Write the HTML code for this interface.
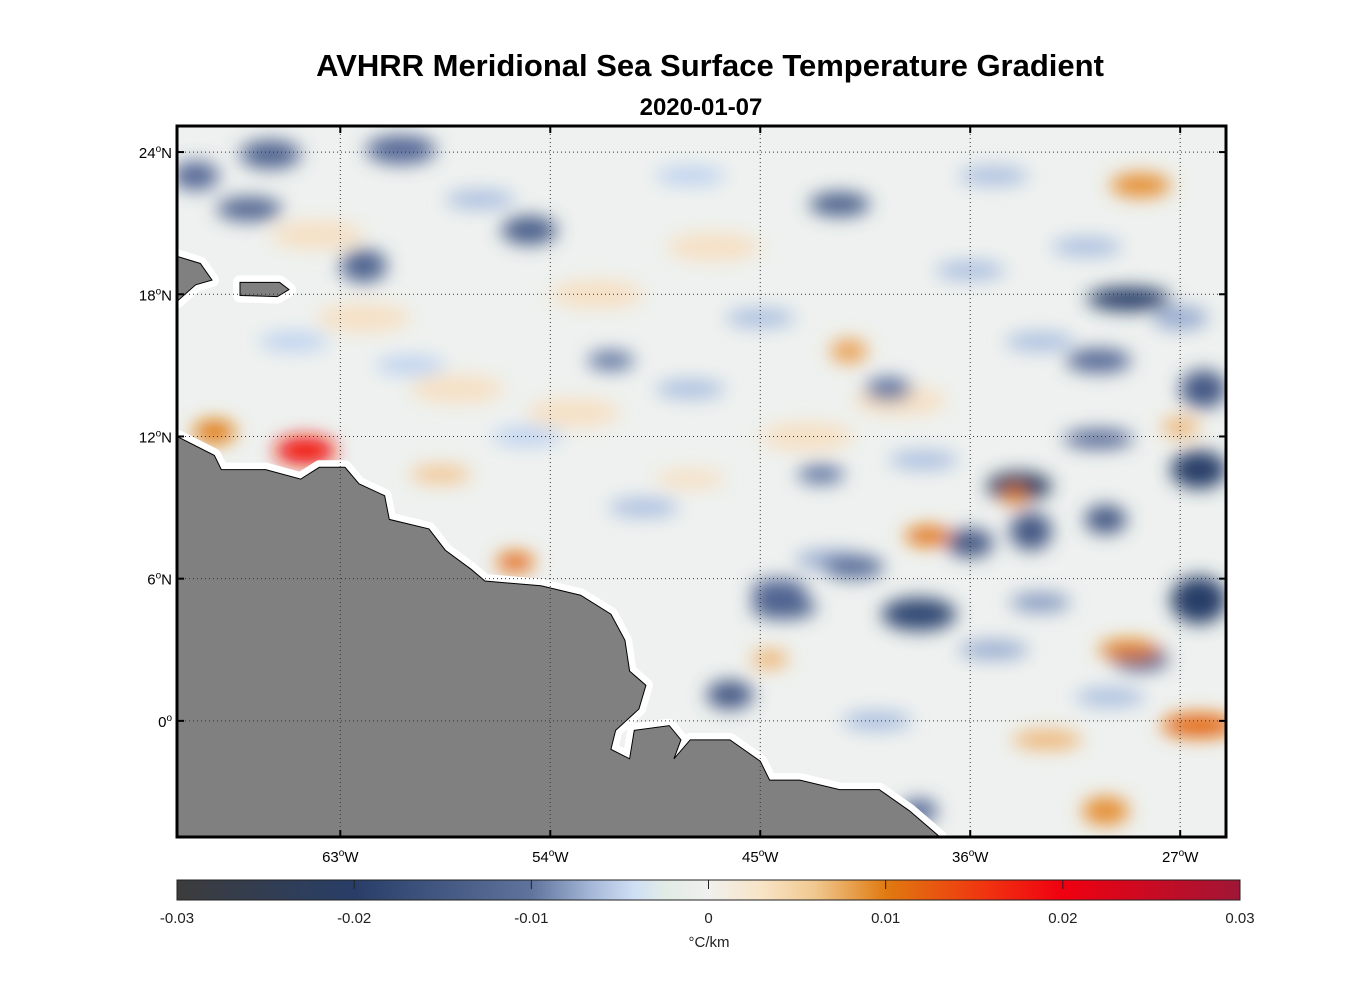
<!DOCTYPE html>
<html><head><meta charset="utf-8">
<style>
body{margin:0;background:#fff;font-family:"Liberation Sans",Arial,sans-serif}
svg text{font-family:"Liberation Sans",Arial,sans-serif}
</style></head>
<body>
<svg id="chart" width="1356" height="1000" xmlns="http://www.w3.org/2000/svg">
<defs>
<filter id="blur" x="-50%" y="-50%" width="200%" height="200%"><feGaussianBlur stdDeviation="9"/></filter>
<clipPath id="mapclip"><rect x="177" y="126" width="1049" height="711"/></clipPath>
<linearGradient id="cbgrad" x1="0" x2="1" y1="0" y2="0">
<stop offset="0" stop-color="#3c3c3c"/>
<stop offset="0.167" stop-color="#283e68"/>
<stop offset="0.333" stop-color="#5f739c"/>
<stop offset="0.39" stop-color="#a5b8d8"/>
<stop offset="0.43" stop-color="#cfdff4"/>
<stop offset="0.46" stop-color="#e2ece6"/>
<stop offset="0.5" stop-color="#f0f0ee"/>
<stop offset="0.55" stop-color="#f8e4c6"/>
<stop offset="0.6" stop-color="#f0c890"/>
<stop offset="0.667" stop-color="#e07a10"/>
<stop offset="0.76" stop-color="#f03410"/>
<stop offset="0.833" stop-color="#f00010"/>
<stop offset="1" stop-color="#a01636"/>
</linearGradient>
</defs>
<text x="710" y="76" text-anchor="middle" font-size="31" font-weight="bold">AVHRR Meridional Sea Surface Temperature Gradient</text>
<text x="701" y="115" text-anchor="middle" font-size="24" font-weight="bold">2020-01-07</text>
<g id="map" clip-path="url(#mapclip)">
<rect x="177" y="126" width="1049" height="711" fill="#eef1ef"/>
<g id="blobs" filter="url(#blur)"></g>
<g id="land"></g>
<g id="grid"></g>
</g>
<rect x="177" y="126" width="1049" height="711" fill="none" stroke="#000" stroke-width="3"/>
<g id="ticks"></g>
<rect x="177" y="880" width="1063" height="20" fill="url(#cbgrad)" stroke="#222" stroke-width="1"/>
<g id="cbticks"></g>
<text x="709" y="947" text-anchor="middle" font-size="15" fill="#222">°C/km</text>
</svg>
<script>
const lonTicks=[-63,-54,-45,-36,-27];
const latTicks=[24,18,12,6,0];
const cbTicks=[-0.03,-0.02,-0.01,0,0.01,0.02,0.03];
const blobLon=[-62,-58,-52,-47,-43,-48,-45,-36,-33,-38,-50,-42,-35,-30,-40,-55,-60,-65,-57,-48,-35,-31,-27,-44,-41,-36,-64,-53,-39,-33,-33.9,-29.2,-26.2,-26.2,-38.2,-46.3,-33.4,-30.2,-44.2,-41.6,-54.9,-62,-66.9,-66.0,-60.4,-69.2,-30.5,-26.0,-28.7,-38.2,-51.4,-39.5,-42.4,-30.5,-64.5,-68.4,-55.5,-37.8,-28.7,-41.2,-29.2,-26.2,-30.2,-32.7,-44.6,-34.1,-58.7,-48,-27];
const blobLat=[17,14,18,20,12,14,17,19,16,11,9,6.8,3,1,0,12,15,16,22,23,23,20,17,4.8,6.5,7.5,20.5,13,13.5,5,9.9,17.8,10.6,5.1,4.5,1.1,8.0,8.5,5.5,21.8,20.7,19.2,21.6,23.9,24.1,23,15.2,14,2.6,-3.8,15.2,14,10.4,11.9,11.4,12.2,6.7,7.8,22.6,15.6,3.0,-0.2,-3.8,-0.8,2.6,9.5,10.4,10.2,12.4];
const blobVal=[0.004,0.004,0.004,0.004,0.004,-0.006,-0.006,-0.006,-0.006,-0.006,-0.006,-0.007,-0.007,-0.006,-0.006,-0.005,-0.005,-0.005,-0.006,-0.005,-0.006,-0.006,-0.007,-0.014,-0.011,-0.015,0.004,0.004,0.004,-0.008,-0.022,-0.02,-0.02,-0.02,-0.018,-0.015,-0.015,-0.015,-0.012,-0.014,-0.014,-0.013,-0.013,-0.013,-0.012,-0.012,-0.012,-0.015,-0.013,-0.012,-0.01,-0.01,-0.01,-0.012,0.02,0.01,0.012,0.011,0.009,0.008,0.01,0.012,0.009,0.007,0.007,0.01,0.006,0.004,0.007];
const blobRx=[2,2,2,2,2,1.5,1.5,1.5,1.5,1.5,1.5,1.5,1.5,1.5,1.5,1.5,1.5,1.5,1.5,1.5,1.5,1.5,1.2,1.4,1.3,1.0,2,2,2,1.3,1.4,1.8,1.2,1.2,1.6,1.0,0.9,0.9,1.2,1.3,1.2,1.0,1.4,1.3,1.5,1.0,1.4,1.0,1.2,0.8,1.0,1.0,1.0,1.5,1.3,0.9,0.8,1.0,1.3,0.8,1.3,1.6,1.0,1.5,0.8,0.5,1.3,1.5,0.8];
const blobRy=[0.6,0.6,0.6,0.6,0.6,0.4,0.4,0.4,0.4,0.4,0.4,0.4,0.4,0.4,0.4,0.4,0.4,0.4,0.4,0.4,0.4,0.4,0.5,0.5,0.5,0.6,0.6,0.6,0.6,0.4,0.6,0.5,0.8,1.0,0.7,0.6,0.8,0.6,0.5,0.5,0.6,0.7,0.5,0.6,0.6,0.6,0.5,0.8,0.5,0.5,0.4,0.5,0.4,0.4,0.6,0.5,0.4,0.4,0.5,0.5,0.4,0.5,0.6,0.4,0.4,0.4,0.4,0.4,0.4];
const coastLon=[-70,-68.4,-68.1,-66.2,-64.7,-63.9,-62.8,-62.2,-61.1,-60.9,-59.2,-58.5,-57.4,-56.8,-54.4,-52.7,-51.4,-50.8,-50.6,-49.9,-50.2,-51.2,-51.4,-50.6,-50.4,-48.9,-48.4,-48.7,-48.0,-46.3,-45.0,-44.6,-43.3,-41.6,-39.9,-38.6,-37.3,-37.3,-70];
const coastLat=[12.0,11.2,10.6,10.6,10.2,10.7,10.7,10.0,9.5,8.5,8.1,7.2,6.4,5.9,5.7,5.3,4.5,3.4,2.1,1.5,0.5,-0.4,-1.2,-1.6,-0.4,-0.2,-0.8,-1.6,-0.8,-0.8,-1.7,-2.5,-2.5,-2.9,-2.9,-3.8,-4.9,-5.3,-5.3];
const hispLon=[-70,-69,-68.5,-69.2,-70];
const hispLat=[19.6,19.3,18.6,18.4,17.7];
const prLon=[-67.3,-65.6,-65.2,-65.7,-67.3];
const prLat=[18.5,18.5,18.2,17.9,17.95];

const NS='http://www.w3.org/2000/svg';
const x=lon=>177+(lon+70)*23.33;
const y=lat=>126+(25.1-lat)*23.7;
const cbx=v=>177+(v+0.03)/0.06*1063;
function mk(t,a,p){const e=document.createElementNS(NS,t);for(const k in a)e.setAttribute(k,a[k]);p.appendChild(e);return e;}
const cstops=[[-0.03,[60,60,60]],[-0.02,[40,62,104]],[-0.01,[95,115,160]],[-0.005,[190,210,240]],[0,[240,240,238]],[0.005,[248,220,185]],[0.01,[224,122,16]],[0.02,[240,20,10]],[0.03,[160,22,54]]];
function col(v){v=Math.max(-0.03,Math.min(0.03,v));for(let i=0;i<cstops.length-1;i++){const [a,ca]=cstops[i],[b,cb]=cstops[i+1];if(v<=b){const t=(v-a)/(b-a);return 'rgb('+ca.map((c,j)=>Math.round(c+(cb[j]-c)*t)).join(',')+')';}}}
const bg=document.getElementById('blobs');
for(let i=0;i<blobLon.length;i++){
 const e=mk('ellipse',{cx:x(blobLon[i]),cy:y(blobLat[i]),rx:blobRx[i]*23.33,ry:blobRy[i]*23.7,fill:col(blobVal[i])},bg);
 
 
}
const lg=document.getElementById('land');
function poly(lons,lats,name){
 const pts=lons.map((l,i)=>x(l)+','+y(lats[i])).join(' ');
 const h=mk('polygon',{points:pts,fill:'#fff',stroke:'#fff','stroke-width':14,'stroke-linejoin':'round'},lg);
 
 
 const p=mk('polygon',{points:pts,fill:'#808080',stroke:'#000','stroke-width':1},lg);
 
 
}
poly(coastLon,coastLat,'south-america-land');
poly(hispLon,hispLat,'hispaniola-land');
poly(prLon,prLat,'puerto-rico-land');
const gg=document.getElementById('grid'),tg=document.getElementById('ticks');
lonTicks.forEach(l=>{
 const g=mk('line',{x1:x(l),x2:x(l),y1:126,y2:837,stroke:'#333','stroke-width':1,'stroke-dasharray':'1,3'},gg);
 
 
 mk('line',{x1:x(l),x2:x(l),y1:126,y2:133,stroke:'#000','stroke-width':2},tg);
 mk('line',{x1:x(l),x2:x(l),y1:830,y2:837,stroke:'#000','stroke-width':2},tg);
 const t=mk('text',{x:x(l),y:862,'text-anchor':'middle','font-size':15},tg);
 
 
 t.innerHTML=(-l)+'<tspan dy="-6" font-size="10">o</tspan><tspan dy="6">W</tspan>';
});
latTicks.forEach(l=>{
 const g=mk('line',{x1:177,x2:1226,y1:y(l),y2:y(l),stroke:'#333','stroke-width':1,'stroke-dasharray':'1,3'},gg);
 
 
 mk('line',{x1:177,x2:184,y1:y(l),y2:y(l),stroke:'#000','stroke-width':2},tg);
 mk('line',{x1:1219,x2:1226,y1:y(l),y2:y(l),stroke:'#000','stroke-width':2},tg);
 const t=mk('text',{x:172,y:y(l)+6,'text-anchor':'end','font-size':15},tg);
 
 
 t.innerHTML=l===0?'0<tspan dy="-6" font-size="10">o</tspan>':l+'<tspan dy="-6" font-size="10">o</tspan><tspan dy="6">N</tspan>';
});
const cg=document.getElementById('cbticks');
cbTicks.forEach(v=>{
 if(v>-0.03&&v<0.03)mk('line',{x1:cbx(v),x2:cbx(v),y1:880,y2:889,stroke:'#222','stroke-width':1},cg);
 const t=mk('text',{x:cbx(v),y:923,'text-anchor':'middle','font-size':15,fill:'#222'},cg);
 
 
 t.textContent=v===0?'0':String(v);
});
</script>
</body></html>
